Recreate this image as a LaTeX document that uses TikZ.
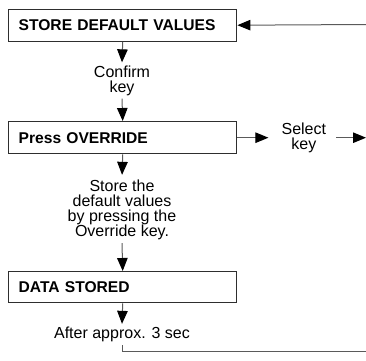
\documentclass[tikz,border=0pt]{standalone}
\usepackage{fontspec}
\setmainfont{Liberation Sans}
\usepackage{xcolor}
\usepackage{tikz}
\usetikzlibrary{positioning,arrows.meta,calc}

\definecolor{lineg}{HTML}{5A5A5A}
\definecolor{boxg}{HTML}{2E2E2E}

\begin{document}
\begin{tikzpicture}[
  x=1pt, y=1pt,
  >={Triangle[length=13pt,width=10.5pt,black]},
  stepbox/.style={draw=boxg, line width=1.4pt, text width=208pt, inner xsep=10pt, inner ysep=0pt,
    minimum height=32pt, align=left, anchor=north west,
    font=\fontsize{15.6}{18}\selectfont\bfseries},
  note/.style={align=center, inner sep=3pt, font=\fontsize{16}{15}\selectfont},
  link/.style={->, line width=1pt, lineg},
]
\useasboundingbox (0,0) rectangle (366,-360);

% Boxes
\node[stepbox] (sdv) at (8,-8.5) {STORE DEFAULT VALUES};
\node[stepbox] (po) at (8,-121) {Press OVERRIDE};
\node[stepbox, minimum height=31pt] (ds) at (8,-271) {DATA STORED};

% Labels
\node[note] (confirm) at (122,-80.5) {Confirm\\key};
\node[note, right=41pt of po] (select) {Select\\key};
\node[note] (store) at (122,-210) {Store the\\default values\\by pressing the\\Override key.};
\node[note] (after) at (122,-334.5) {After approx. 3 sec};

% Free ends at the right edge
\coordinate (loopin) at (366,-24.5);
\coordinate (selout) at (366,-137);
\coordinate (loopout) at (366,-351);

% Connectors
\draw[link] (sdv.south) -- (confirm.north);
\draw[link] (confirm.south) -- (po.north);
\draw[link, shorten >=10pt] (po.east) -- (select.west);
\draw[link, shorten <=7pt] (select.east) -- (select.east -| selout);
\draw[link, shorten >=2pt] (po.south) -- (store.north);
\draw[link] (store.south) -- (ds.north);
\draw[link] (ds.south) -- (after.north);
\draw[line width=1pt, lineg] (after.south) |- (loopout);
\draw[link] (loopin) -- (sdv.east);

\end{tikzpicture}
\end{document}
